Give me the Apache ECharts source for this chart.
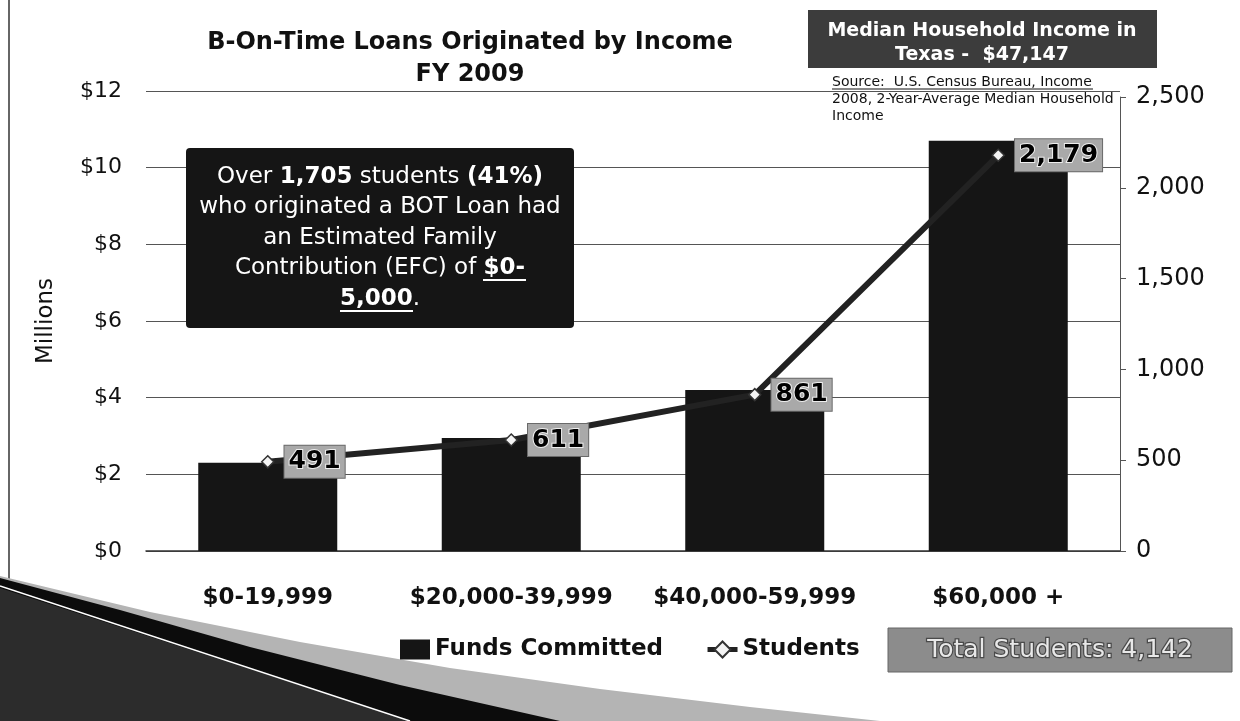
<!DOCTYPE html>
<html>
<head>
<meta charset="utf-8">
<script src="https://cdn.jsdelivr.net/npm/echarts@6/dist/echarts.min.js"></script>
<style>
  html, body { margin: 0; padding: 0; background: #fff; }
  #chart { width: 1240px; height: 721px; }
</style>
</head>
<body>
<div id="chart"></div>
<script>
// ---- data ----
const categories = ['$0-19,999', '$20,000-39,999', '$40,000-59,999', '$60,000 +'];
const fundsCommitted = [2.30, 2.95, 4.20, 10.70];   // $ millions
const students = [491, 611, 861, 2179];
const leftTicks = { min: 0, max: 12, interval: 2 };
const rightTicks = { min: 0, max: 2500, interval: 500 };
const chartTitle = 'B-On-Time Loans Originated by Income\nFY 2009';
const medianText = 'Median Household Income in\nTexas -  $47,147';
const sourceText = 'Source:  U.S. Census Bureau, Income\n2008, 2-Year-Average Median Household\nIncome';
const totalText = 'Total Students: 4,142';

const FONT = 'DejaVu Sans';
const chart = echarts.init(document.getElementById('chart'), null, { renderer: 'canvas' });

const fmt = v => Number(v).toLocaleString('en-US');

const option = {
  backgroundColor: '#ffffff',
  animation: false,
  textStyle: { fontFamily: FONT },
  title: {
    text: chartTitle,
    left: 465,
    top: 22,
    textAlign: 'center',
    textStyle: { fontFamily: FONT, fontSize: 24, fontWeight: 'bold', color: '#111', lineHeight: 32 }
  },
  legend: {
    left: 400,
    top: 638,
    itemWidth: 30,
    itemHeight: 20,
    itemGap: 42,
    padding: 0,
    textStyle: { fontFamily: FONT, fontSize: 23, fontWeight: 'bold', color: '#111' },
    data: [
      { name: 'Funds Committed', icon: 'rect' },
      { name: 'Students', lineStyle: { width: 5, color: '#222' } }
    ]
  },
  grid: [
    { left: 146, right: 120, top: 91, bottom: 170 },
    { left: 146, right: 120, top: 97, bottom: 170 }
  ],
  xAxis: [
    {
      type: 'category', gridIndex: 0, data: categories,
      axisLine: { lineStyle: { color: '#333', width: 1.5 } },
      axisTick: { show: false },
      axisLabel: { interval: 0, fontFamily: FONT, fontSize: 23, fontWeight: 'bold', color: '#111', margin: 36 }
    },
    {
      type: 'category', gridIndex: 1, data: categories, show: false
    }
  ],
  yAxis: [
    {
      type: 'value', gridIndex: 0,
      min: leftTicks.min, max: leftTicks.max, interval: leftTicks.interval,
      name: 'Millions', nameLocation: 'middle', nameGap: 88,
      nameTextStyle: { fontFamily: FONT, fontSize: 23, color: '#111' },
      axisLine: { show: false },
      axisTick: { show: false },
      splitLine: { lineStyle: { color: '#555', width: 1 } },
      axisLabel: { fontFamily: FONT, fontSize: 22, color: '#111', margin: 24, formatter: v => '$' + v }
    },
    {
      type: 'value', gridIndex: 1, position: 'right',
      min: rightTicks.min, max: rightTicks.max, interval: rightTicks.interval,
      axisLine: { show: true, lineStyle: { color: '#555', width: 1 } },
      axisTick: { show: true, length: 6, lineStyle: { color: '#555' } },
      splitLine: { show: false },
      axisLabel: { fontFamily: FONT, fontSize: 24, color: '#111', margin: 16, formatter: v => fmt(v) }
    }
  ],
  series: [
    {
      name: 'Funds Committed',
      type: 'bar',
      xAxisIndex: 0, yAxisIndex: 0,
      data: fundsCommitted,
      barWidth: 139,
      itemStyle: { color: '#151515' },
      z: 2
    },
    {
      name: 'Students',
      type: 'line',
      xAxisIndex: 1, yAxisIndex: 1,
      data: students,
      symbol: 'diamond',
      symbolSize: 12,
      lineStyle: { color: '#222', width: 6 },
      itemStyle: { color: '#f4f4f4', borderColor: '#333', borderWidth: 1.5 },
      label: {
        show: true,
        position: 'right',
        distance: 10,
        formatter: p => fmt(p.value),
        fontFamily: FONT, fontSize: 25, fontWeight: 'bold', color: '#000',
        textBorderColor: '#eeeeee', textBorderWidth: 2,
        backgroundColor: '#a9a9a9', borderColor: '#6a6a6a', borderWidth: 1,
        padding: [4, 4, 3, 4]
      },
      z: 5
    }
  ],
  graphic: [
    // slide border on the left
    { type: 'line', z: 0, shape: { x1: 9, y1: 0, x2: 9, y2: 580 }, style: { stroke: '#333', lineWidth: 1.5 } },
    // bottom-left decorative sweep
    { type: 'polygon', z: 0, shape: { points: [[0,576],[150,612],[300,642],[450,668],[600,689],[750,707],[880,721],[0,721]] }, style: { fill: '#b4b4b4' } },
    { type: 'polygon', z: 0, shape: { points: [[0,578],[120,610],[250,647],[400,685],[560,721],[0,721]] }, style: { fill: '#0c0c0c' } },
    { type: 'polygon', z: 0, shape: { points: [[0,588],[410,721],[0,721]] }, style: { fill: '#2c2c2c' } },
    { type: 'line', z: 0, shape: { x1: 0, y1: 586, x2: 410, y2: 721 }, style: { stroke: '#ffffff', lineWidth: 1.5 } },
    // Median household income box
    { type: 'rect', z: 10, shape: { x: 808, y: 10, width: 349, height: 58 }, style: { fill: '#3c3c3c' } },
    { type: 'text', z: 11, style: {
        text: medianText, x: 982, y: 43, align: 'center', verticalAlign: 'middle',
        fontFamily: FONT, fontSize: 19, fontWeight: 'bold', lineHeight: 24, fill: '#ffffff'
      } },
    // Source note
    { type: 'text', z: 11, style: {
        text: sourceText, x: 832, y: 74, align: 'left', verticalAlign: 'top',
        fontFamily: FONT, fontSize: 14, lineHeight: 17, fill: '#111'
      } },
    { type: 'line', z: 11, shape: { x1: 832, y1: 89, x2: 1093, y2: 89 }, style: { stroke: '#111', lineWidth: 1 } },
    // Callout box
    { type: 'rect', z: 10, shape: { x: 186, y: 148, width: 388, height: 180, r: 4 }, style: { fill: '#151515' } },
    { type: 'text', z: 11, style: {
        text: 'Over {b|1,705} students {b|(41%)}\nwho originated a BOT Loan had\nan Estimated Family\nContribution (EFC) of {b|$0-}\n{b|5,000}.',
        x: 380, y: 238, align: 'center', verticalAlign: 'middle',
        fontFamily: FONT, fontSize: 23, lineHeight: 30.5, fill: '#ffffff',
        rich: { b: { fontFamily: FONT, fontSize: 23, fontWeight: 'bold', fill: '#ffffff', lineHeight: 30.5 } }
      } },
    { type: 'line', z: 11, shape: { x1: 483, y1: 280, x2: 526, y2: 280 }, style: { stroke: '#fff', lineWidth: 2 } },
    { type: 'line', z: 11, shape: { x1: 340, y1: 311, x2: 413, y2: 311 }, style: { stroke: '#fff', lineWidth: 2 } },
    // Total students box
    { type: 'rect', z: 10, shape: { x: 888, y: 628, width: 344, height: 44 }, style: { fill: '#8c8c8c', stroke: '#666', lineWidth: 1 } },
    { type: 'text', z: 11, style: {
        text: totalText, x: 1060, y: 650, align: 'center', verticalAlign: 'middle',
        fontFamily: FONT, fontSize: 25, fill: '#e8e8e8', stroke: '#4a4a4a', lineWidth: 2.5
      } }
  ]
};
chart.setOption(option);
</script>
</body>
</html>
